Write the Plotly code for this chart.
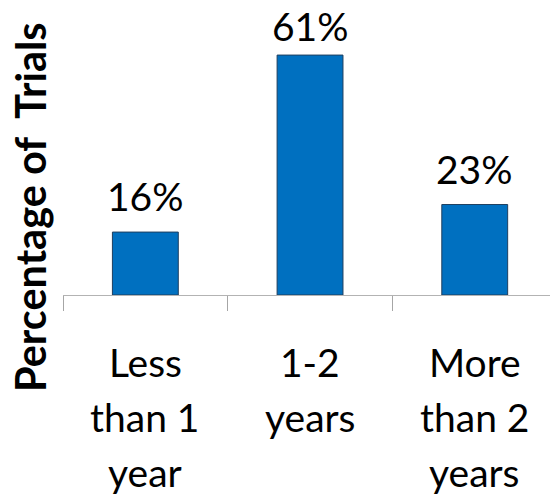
import plotly.graph_objects as go

categories = ["Less than 1 year", "1-2 years", "More than 2 years"]
label_lines = [["Less", "than 1", "year"], ["1-2", "years"], ["More", "than 2", "years"]]
values = [16, 61, 23]
y_title = "Percentage of\u00a0 Trials"

FONT = "Lato"
FS = 39
Y_MAX = 75.0
PLOT_H = 295  # px height of plotting area
LABEL_H = 47  # approx px height of a value-label box
TOP_PAD = 4   # keep value labels this far inside the top edge

fig = go.Figure(go.Bar(
    x=categories, y=values, width=0.4,
    marker=dict(color="#0070C0", line=dict(color="#1F3F5F", width=1)),
    hoverinfo="skip",
))

annotations = []
for c, v in zip(categories, values):
    shift = 11
    top_px = PLOT_H - v / Y_MAX * PLOT_H - shift - LABEL_H
    if top_px < TOP_PAD:  # keep labels inside the chart area
        shift += top_px - TOP_PAD
    annotations.append(dict(
        x=c, y=v, xref="x", yref="y", text=f"{v}%", showarrow=False,
        yanchor="bottom", xanchor="center", yshift=shift,
        font=dict(family=FONT, size=FS, color="#000000"),
    ))
for c, lines in zip(categories, label_lines):
    for i, line in enumerate(lines):
        annotations.append(dict(
            x=c, y=0, xref="x", yref="paper", text=line, showarrow=False,
            yanchor="top", xanchor="center", yshift=-42 - i * 55,
            font=dict(family=FONT, size=FS, color="#000000"),
        ))
annotations.append(dict(
    x=0, y=(295 - 207) / 295, xref="paper", yref="paper",
    text=f"<b>{y_title}</b>",
    showarrow=False, textangle=-90, xanchor="center", yanchor="middle",
    xshift=-33, font=dict(family=FONT, size=41.5, color="#000000"),
))

fig.update_layout(
    width=550, height=498,
    margin=dict(l=63, r=0, t=0, b=203),
    paper_bgcolor="white", plot_bgcolor="white",
    showlegend=False,
    annotations=annotations,
    xaxis=dict(
        type="category", range=[-0.5, 2.457], tickson="boundaries",
        ticks="outside", ticklen=15, tickcolor="#A6A6A6", tickwidth=1,
        showline=True, linecolor="#B3B3B3", linewidth=1,
        showticklabels=False, showgrid=False, zeroline=False, fixedrange=True,
    ),
    yaxis=dict(
        range=[0, Y_MAX], showticklabels=False, showgrid=False,
        zeroline=False, showline=False, ticks="", fixedrange=True,
    ),
)
fig.update_traces(cliponaxis=False)
fig.write_html("out.html")
